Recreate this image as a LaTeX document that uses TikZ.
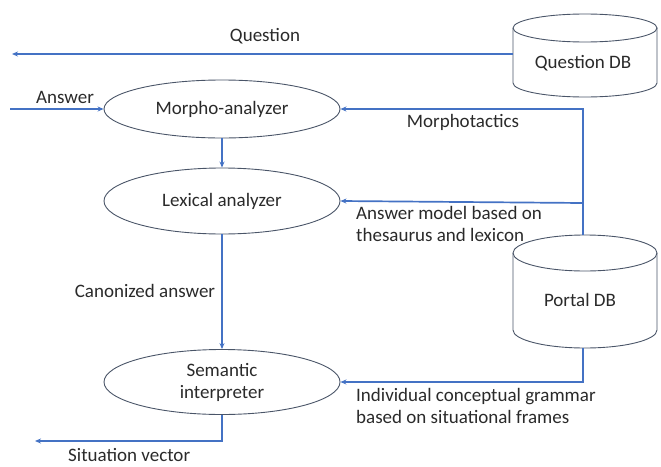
\documentclass[tikz,border=0pt]{standalone}
\usepackage{fontspec}
\setmainfont{Carlito}
\usetikzlibrary{arrows.meta,shapes.geometric}
\definecolor{lblue}{HTML}{4472C4}
\definecolor{edgec}{HTML}{4A5568}
\definecolor{txt}{HTML}{2A2A2A}
\begin{document}
\begin{tikzpicture}[x=1pt,y=-1pt,
 font=\fontsize{19}{22}\selectfont, text=txt,
 flow/.style={draw=lblue, line width=1.7pt, -{Stealth[length=6pt,width=5pt]}},
 proc/.style={ellipse, draw=edgec, line width=0.9pt, minimum width=236pt, minimum height=60pt, inner sep=0pt, align=center},
 dbline/.style={draw=edgec, line width=0.9pt},
 lbl/.style={inner sep=0pt, align=left}]
\useasboundingbox (0,0) rectangle (661,466);
% databases
\draw[dbline] (585,28) ellipse [x radius=72, y radius=14];
\draw[dbline] (513,28) -- (513,83) arc[start angle=180, end angle=0, x radius=72, y radius=14] -- (657,28);
\node[lbl] (qdb) at (583,63) {Question DB};
\draw[dbline] (585,253) ellipse [x radius=72, y radius=18];
\draw[dbline] (513,253) -- (513,330) arc[start angle=180, end angle=0, x radius=72, y radius=18] -- (657,253);
\node[lbl] (pdb) at (580,300) {Portal DB};
\coordinate (qdbL) at (513,54);
\coordinate (qout) at (12,54);
\coordinate (ain) at (10,109);
\coordinate (pdbT) at (583,235);
\coordinate (pdbB) at (583,348);
\coordinate (jn) at (583,203);
\coordinate (sout) at (35,441);
% processes
\node[proc, minimum height=58pt] (morph) at (222,109) {Morpho-analyzer};
\node[proc, minimum height=66pt] (lex) at (222,201) {Lexical analyzer};
\node[proc, minimum height=65pt] (sem) at (222,382) {Semantic\\interpreter};
% connectors
\draw[flow] (qdbL) -- (qout);
\draw[flow] (ain) -- (morph.west);
\draw[flow] (morph.south) -- (lex.north);
\draw[flow] (lex.south) -- (sem.north);
\draw[flow] (pdbT) |- (morph.east);
\draw[flow] (jn) -- (lex.east);
\draw[flow] (pdbB) |- (sem.east);
\draw[flow] (sem.south) |- (sout);
% labels
\node[lbl] (lq) at (265,36) {Question};
\node[lbl] (la) at (65,97) {Answer};
\node[lbl] (lm) at (463,122) {Morphotactics};
\node[lbl, anchor=west] (lam) at (356,224) {Answer model based on\\thesaurus and lexicon};
\node[lbl] (lc) at (145,291) {Canonized answer};
\node[lbl, anchor=west] (lg) at (356,406) {Individual conceptual grammar\\based on situational frames};
\node[lbl, anchor=west] (ls) at (68,455) {Situation vector};
\end{tikzpicture}
\end{document}
